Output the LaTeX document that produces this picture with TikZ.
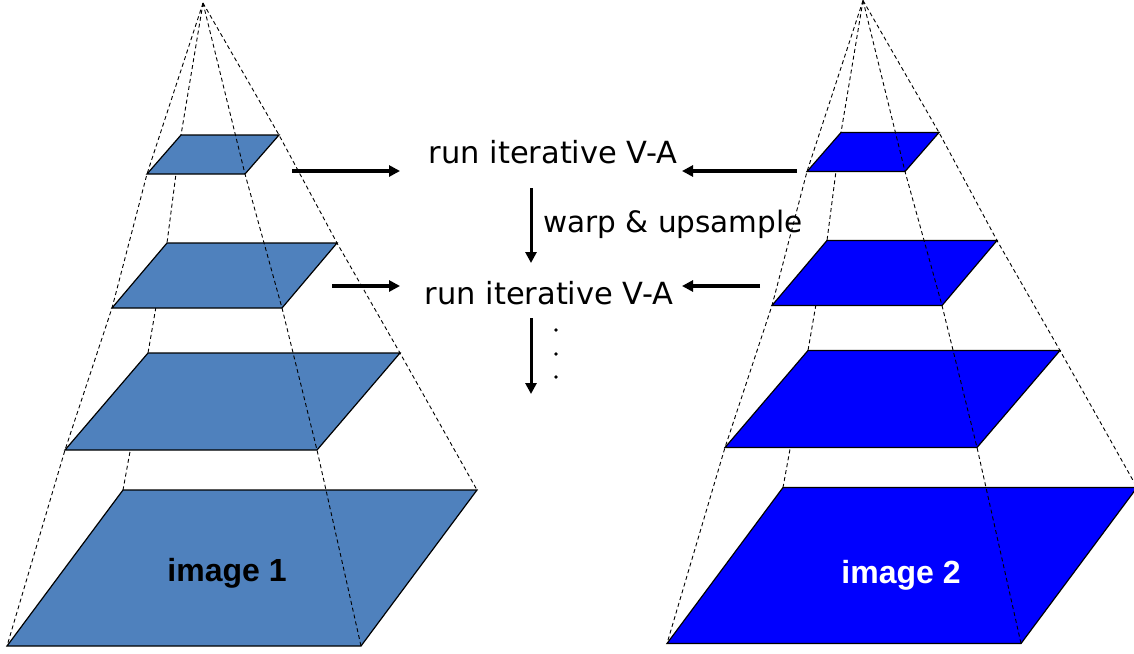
\documentclass[tikz,border=0pt]{standalone}
\usepackage{fontspec}
\setmainfont{DejaVu Sans}
\newfontfamily\capfont{Liberation Sans}
\usetikzlibrary{arrows.meta}

\definecolor{layerpale}{HTML}{4F81BD}
\definecolor{layerblue}{HTML}{0000FF}

\begin{document}
\begin{tikzpicture}[x=1pt,y=-1pt,font=\fontsize{30.5}{36}\selectfont,
  layer/.style={draw=black,line width=1.2pt,line join=miter},
  guide/.style={black,line width=0.9pt,dash pattern=on 4pt off 3pt},
  flow/.style={-{Triangle[length=11pt,width=11pt]},line width=3.8pt},
  tag/.style={font=\capfont\bfseries\fontsize{32}{36}\selectfont,inner sep=0pt,anchor=base}]
% pixel grid of the source, y running down
\useasboundingbox (0,0) rectangle (1134,653);

% a pyramid: #1 prefix, #2/#3 shift, #4 fill
\newcommand{\drawpyramid}[4]{%
  \begin{scope}[shift={(#2,#3)}]
    \coordinate (#1-apex) at (203,3);
    \foreach \n/\x/\y/\w/\s/\h in {1/181/135/98/34/39, 2/167/243/170/55/65,
                                   3/148/353/252/83/97, 4/123/490/354/116/156}{
      \coordinate (#1-tl-\n) at (\x,\y);
      \coordinate (#1-tr-\n) at (\x+\w,\y);
      \coordinate (#1-br-\n) at (\x+\w-\s,\y+\h);
      \coordinate (#1-bl-\n) at (\x-\s,\y+\h);}
  \end{scope}
  % back edges first, the layers hide them
  \foreach \c in {tl,tr,bl}{
    \draw[guide] (#1-apex) -- (#1-\c-1) -- (#1-\c-2) -- (#1-\c-3) -- (#1-\c-4);}
  \foreach \n in {1,...,4}{
    \filldraw[layer,fill=#4] (#1-tl-\n) -- (#1-tr-\n) -- (#1-br-\n) -- (#1-bl-\n) -- cycle;}
  % front edge runs over the layers
  \draw[guide] (#1-apex) -- (#1-br-1) -- (#1-br-2) -- (#1-br-3) -- (#1-br-4);}

\drawpyramid{lp}{0}{0}{layerpale}
\drawpyramid{rp}{660}{-2.5}{layerblue}

\node[tag] (img1) at (227,581) {image 1};
\node[tag,white] (img2) at (901,583) {image 2};

% coarse-to-fine loop between the pyramids
\node[anchor=base,inner sep=0pt] (va1) at (553,163) {run iterative V-A};
\node[anchor=base,inner sep=0pt] (va2) at (549,304) {run iterative V-A};
\node[anchor=base west,inner sep=0pt,font=\fontsize{29.5}{36}\selectfont]
  (warp) at (543,232) {warp \& upsample};

\coordinate (lp-out1) at (292,171);  \coordinate (va1-inl) at (400,171);
\coordinate (rp-out1) at (797,171);  \coordinate (va1-inr) at (682,171);
\coordinate (lp-out2) at (332,286);  \coordinate (va2-inl) at (400,286);
\coordinate (rp-out2) at (760,286);  \coordinate (va2-inr) at (682,286);
\coordinate (va1-down) at (531,188); \coordinate (va2-up) at (531,263);
\coordinate (va2-down) at (531,318); \coordinate (next) at (531,394);

\draw[flow] (lp-out1) -- (va1-inl);
\draw[flow] (rp-out1) -- (va1-inr);
\draw[flow] (lp-out2) -- (va2-inl);
\draw[flow] (rp-out2) -- (va2-inr);
\draw[flow,line width=3pt] (va1-down) -- (va2-up);
\draw[flow,line width=3pt] (va2-down) -- (next);
\foreach \y in {330,354,377}{
  \fill (556,\y) circle (1.8);}
\end{tikzpicture}
\end{document}
